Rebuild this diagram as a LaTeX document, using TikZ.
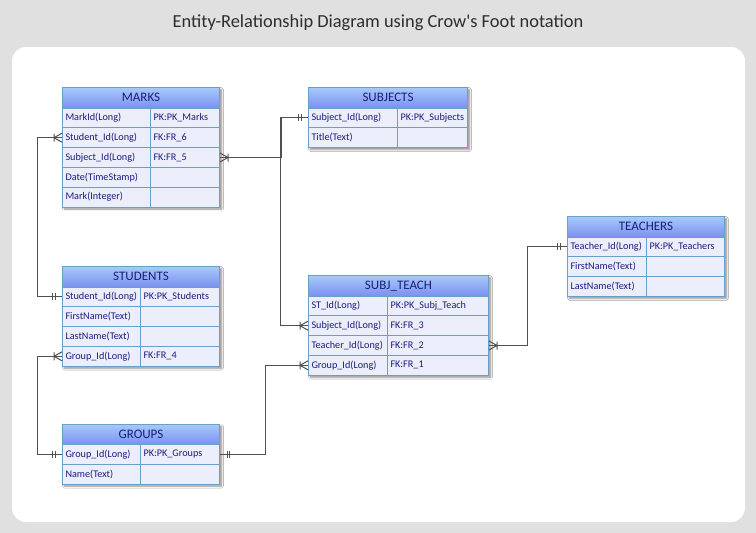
\documentclass[tikz,border=0pt]{standalone}
\usepackage{fontspec}
\setmainfont{Carlito}
\usetikzlibrary{shadows.blur}
\definecolor{bggray}{RGB}{224,224,224}
\definecolor{erline}{RGB}{104,160,200}
\definecolor{errow}{RGB}{236,238,252}
\definecolor{ertext}{RGB}{28,28,125}
\definecolor{hdrtop}{RGB}{166,202,250}
\definecolor{hdrbot}{RGB}{124,144,240}
\definecolor{connc}{RGB}{80,80,80}
\definecolor{titlec}{RGB}{45,45,45}

\begin{document}
\begin{tikzpicture}[x=1pt,y=-1pt,
  hdr/.style={draw=erline,line width=1pt,top color=hdrtop,bottom color=hdrbot,text=ertext,font=\fontsize{13}{15}\selectfont,minimum height=20.5pt,inner sep=0pt,anchor=north west},
  cell/.style={draw=erline,line width=1pt,fill=errow,text=ertext,font=\fontsize{10.2}{11}\selectfont,inner xsep=3pt,inner ysep=0pt,minimum height=19.8pt,align=left,anchor=north west},
  conn/.style={draw=connc,line width=1pt},
  tshadow/.style={blur shadow={shadow xshift=2.5pt,shadow yshift=-2.5pt,shadow blur steps=6,shadow opacity=45}},
  one/.pic={\draw[conn] (-7,-3.5) -- (-7,3.5) (-9.5,-3.5) -- (-9.5,3.5);},
  many/.pic={\draw[conn] (-8,-4) -- (-8,4) (0,-4.5) -- (-8,0) -- (0,4.5);}]
  \useasboundingbox[fill=bggray] (0,0) rectangle (756,533);
  \fill[white,rounded corners=14pt] (12,47) rectangle (745,522);
  \node[font=\fontsize{18.4}{20}\selectfont,text=titlec] (title) at (378,23) {Entity-Relationship Diagram using Crow\textquotesingle s Foot notation};

  % MARKS
  \path[tshadow] (62,87) rectangle (219,206.5);
  \node[hdr,minimum width=157pt] (marks) at (62,87) {MARKS};
  \foreach \i/\a/\b in {1/MarkId(Long)/PK:PK\_Marks, 2/Student\_Id(Long)/FK:FR\_6, 3/Subject\_Id(Long)/FK:FR\_5, 4/Date(TimeStamp)/{}, 5/Mark(Integer)/{}}{
    \node[cell,text width=82pt] (marks\i a) at (62,{87.7+\i*19.8}) {\a};
    \node[cell,text width=63pt] (marks\i b) at (150,{87.7+\i*19.8}) {\b};}

  % SUBJECTS
  \path[tshadow] (308,87) rectangle (467,147.1);
  \node[hdr,minimum width=159pt] (subj) at (308,87) {SUBJECTS};
  \foreach \i/\a/\b in {1/Subject\_Id(Long)/PK:PK\_Subjects, 2/Title(Text)/{}}{
    \node[cell,text width=83pt] (subj\i a) at (308,{87.7+\i*19.8}) {\a};
    \node[cell,text width=64pt] (subj\i b) at (397,{87.7+\i*19.8}) {\b};}

  % STUDENTS
  \path[tshadow] (62,266) rectangle (219,365.7);
  \node[hdr,minimum width=157pt] (stud) at (62,266) {STUDENTS};
  \foreach \i/\a/\b in {1/Student\_Id(Long)/PK:PK\_Students, 2/FirstName(Text)/{}, 3/LastName(Text)/{}, 4/Group\_Id(Long)/FK:FR\_4}{
    \node[cell,text width=72pt] (stud\i a) at (62,{266.7+\i*19.8}) {\a};
    \node[cell,text width=73pt] (stud\i b) at (140,{266.7+\i*19.8}) {\b};}

  % GROUPS
  \path[tshadow] (62,423.5) rectangle (219,483.6);
  \node[hdr,minimum width=157pt] (grp) at (62,423.5) {GROUPS};
  \foreach \i/\a/\b in {1/Group\_Id(Long)/PK:PK\_Groups, 2/Name(Text)/{}}{
    \node[cell,text width=72pt] (grp\i a) at (62,{424.2+\i*19.8}) {\a};
    \node[cell,text width=73pt] (grp\i b) at (140,{424.2+\i*19.8}) {\b};}

  % SUBJ_TEACH
  \path[tshadow] (308,275) rectangle (488,374.7);
  \node[hdr,minimum width=180pt] (st) at (308,275) {SUBJ\_TEACH};
  \foreach \i/\a/\b in {1/ST\_Id(Long)/PK:PK\_Subj\_Teach, 2/Subject\_Id(Long)/FK:FR\_3, 3/Teacher\_Id(Long)/FK:FR\_2, 4/Group\_Id(Long)/FK:FR\_1}{
    \node[cell,text width=73pt] (st\i a) at (308,{275.7+\i*19.8}) {\a};
    \node[cell,text width=95pt] (st\i b) at (387,{275.7+\i*19.8}) {\b};}

  % TEACHERS
  \path[tshadow] (567,216) rectangle (724,295.9);
  \node[hdr,minimum width=157pt] (tch) at (567,216) {TEACHERS};
  \foreach \i/\a/\b in {1/Teacher\_Id(Long)/PK:PK\_Teachers, 2/FirstName(Text)/{}, 3/LastName(Text)/{}}{
    \node[cell,text width=73pt] (tch\i a) at (567,{216.7+\i*19.8}) {\a};
    \node[cell,text width=72pt] (tch\i b) at (646,{216.7+\i*19.8}) {\b};}

  % relationships
  \draw[conn] (marks2a.west) -- ++(-25,0) |- (stud1a.west);
  \draw[conn] (marks3b.east) -- ++(61,0) |- (subj1a.west);
  \draw[conn] (subj1a.west) -- ++(-28,0) |- (st2a.west);
  \draw[conn] (stud4a.west) -- ++(-25,0) |- (grp1a.west);
  \draw[conn] (grp1b.east) -- ++(45,0) |- (st4a.west);
  \draw[conn] (st3b.east) -- ++(38,0) |- (tch1a.west);
  \pic at (marks2a.west) {many};
  \pic[xscale=-1] at (marks3b.east) {many};
  \pic at (st2a.west) {many};
  \pic at (stud4a.west) {many};
  \pic at (st4a.west) {many};
  \pic[xscale=-1] at (st3b.east) {many};
  \pic at (stud1a.west) {one};
  \pic at (subj1a.west) {one};
  \pic at (grp1a.west) {one};
  \pic[xscale=-1] at (grp1b.east) {one};
  \pic at (tch1a.west) {one};
\end{tikzpicture}
\end{document}
